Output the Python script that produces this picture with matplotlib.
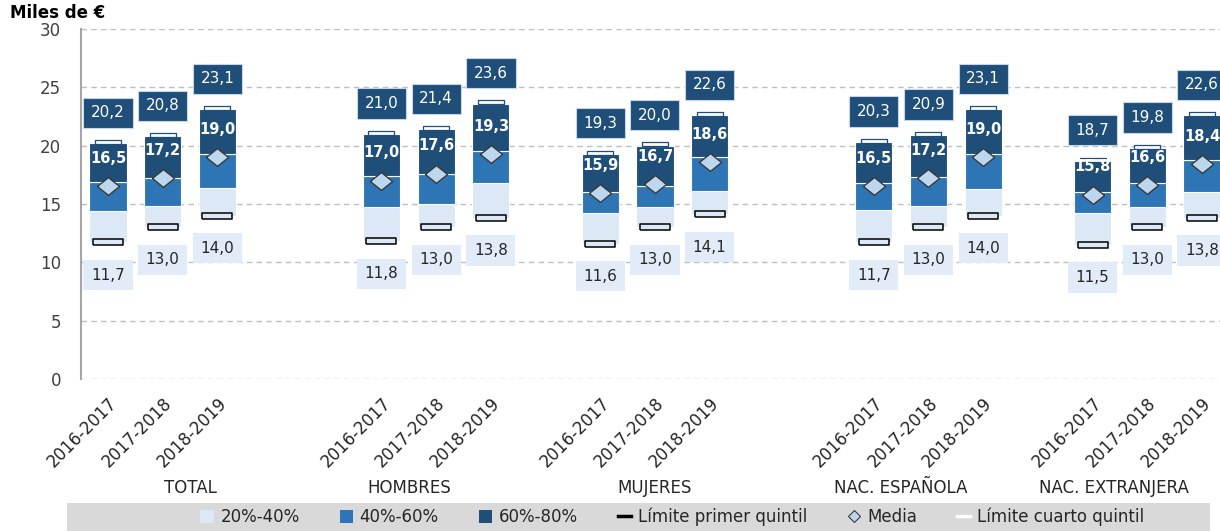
import matplotlib
matplotlib.use('Agg')
import matplotlib.pyplot as plt
import numpy as np
from matplotlib.lines import Line2D
from matplotlib.patches import Patch, Rectangle
from matplotlib.transforms import blended_transform_factory, ScaledTranslation

groups = ['TOTAL', 'HOMBRES', 'MUJERES', 'NAC. ESPAÑOLA', 'NAC. EXTRANJERA']
periods = ['2016-2017', '2017-2018', '2018-2019']

# percentiles (miles de euros), 3 periods per group
p20 = [11.7, 13.0, 14.0, 11.8, 13.0, 13.8, 11.6, 13.0, 14.1, 11.7, 13.0, 14.0, 11.5, 13.0, 13.8]
p40 = [14.4, 14.8, 16.4, 14.7, 15.0, 16.8, 14.2, 14.7, 16.1, 14.5, 14.8, 16.3, 14.2, 14.7, 16.0]
p60 = [16.9, 17.2, 19.3, 17.4, 17.6, 19.5, 16.0, 16.5, 19.0, 16.8, 17.3, 19.3, 16.05, 16.8, 18.8]
p80 = [20.2, 20.8, 23.1, 21.0, 21.4, 23.6, 19.3, 20.0, 22.6, 20.3, 20.9, 23.1, 18.7, 19.8, 22.6]
media = [16.5, 17.2, 19.0, 17.0, 17.6, 19.3, 15.9, 16.7, 18.6, 16.5, 17.2, 19.0, 15.8, 16.6, 18.4]

# layout: first slot of each group on the category axis
group_start = [0, 5, 9, 14, 18]
group_label_x = [1.5, 5.5, 10.0, 14.5, 18.4]

C_LIGHT = '#dce8f5'
C_MID = '#2e75b6'
C_DARK = '#1f4e79'
C_DIAM = '#bdd7ee'
C_BOXLOW = '#e2ecf8'


def fmt(v):
    return '{:.1f}'.format(v).replace('.', ',')


def main():
    x = np.array([g + i for g in group_start for i in range(len(periods))], dtype=float)
    lo = np.array(p20)
    q40 = np.array(p40)
    q60 = np.array(p60)
    hi = np.array(p80)
    mean = np.array(media)

    fig = plt.figure(figsize=(12.2, 5.31), dpi=100)
    ax = fig.add_axes([0.0661, 0.2863, 1 - 0.0661, 0.6591])

    w = 0.68
    ax.bar(x, q40 - lo, w, bottom=lo, color=C_LIGHT, edgecolor='white', linewidth=0.8, zorder=2)
    ax.bar(x, q60 - q40, w, bottom=q40, color=C_MID, edgecolor='white', linewidth=0.8, zorder=2)
    ax.bar(x, hi - q60, w, bottom=q60, color=C_DARK, edgecolor='white', linewidth=0.8, zorder=2)

    rect = [(-1, -0.17), (1, -0.17), (1, 0.17), (-1, 0.17), (-1, -0.17)]
    ax.plot(x, lo, ls='none', marker=rect, ms=22, mfc=C_LIGHT, mec='black', mew=1.1, zorder=4)
    ax.plot(x, hi + 0.1, ls='none', marker=rect, ms=19, mfc='white', mec=C_DARK, mew=0.9, zorder=4)

    diamond = [(-1, 0), (0, 0.8), (1, 0), (0, -0.8), (-1, 0)]
    ax.plot(x, mean, ls='none', marker=diamond, ms=16, mfc=C_DIAM, mec='#3a3a3a', mew=1.0, zorder=5)

    for xi, a, b, m in zip(x, lo, hi, mean):
        ax.annotate(fmt(b), (xi, b), xytext=(0, 22), textcoords='offset points',
                    ha='center', va='center', fontsize=11, color='white',
                    bbox=dict(boxstyle='square,pad=0.5', fc=C_DARK, ec='#c6d6ea', lw=0.8), zorder=6)
        ax.annotate(fmt(a), (xi, a), xytext=(0, -23.5), textcoords='offset points',
                    ha='center', va='center', fontsize=11, color='#262626',
                    bbox=dict(boxstyle='square,pad=0.5', fc=C_BOXLOW, ec='none'), zorder=6)
        ax.annotate(fmt(m), (xi, m), xytext=(0, 20), textcoords='offset points',
                    ha='center', va='center', fontsize=10.5, fontweight='bold', color='white', zorder=6)

    ax.set_ylim(0, 30)
    ax.set_xlim(-0.5, 20.33)
    ax.set_yticks(np.arange(0, 31, 5))
    ax.set_yticklabels([str(v) for v in range(0, 31, 5)], fontsize=12, color='#404040')
    ax.set_xticks(x)
    ax.set_xticklabels(periods * len(groups), rotation=45, ha='right',
                       rotation_mode='anchor', fontsize=12, color='#262626')
    shift = ScaledTranslation(-6 / 100, 0, fig.dpi_scale_trans)
    for lab in ax.get_xticklabels():
        lab.set_transform(lab.get_transform() + shift)
    ax.tick_params(axis='both', length=0)
    ax.tick_params(axis='x', pad=11)
    ax.tick_params(axis='y', pad=14)

    ax.grid(axis='y', color='#bfbfbf', linestyle=(0, (4, 3)), linewidth=1, zorder=0)
    ax.set_axisbelow(True)
    for s in ['top', 'right', 'bottom']:
        ax.spines[s].set_visible(False)
    ax.spines['left'].set_color('#a6a6a6')
    ax.spines['left'].set_linewidth(1.5)

    tr = blended_transform_factory(ax.transData, ax.transAxes)
    for gx, name in zip(group_label_x, groups):
        ax.text(gx, -0.311, name, transform=tr, ha='center', va='center',
                fontsize=12, color='#262626')

    fig.text(10 / 1220, 1 - 13 / 531, 'Miles de €', fontsize=12, fontweight='bold',
             ha='left', va='center', color='black')

    fig.patches.append(Rectangle((67 / 1220, 0), (1210 - 67) / 1220, 28 / 531,
                                 transform=fig.transFigure, fc='#d9d9d9', ec='none', zorder=0))

    handles = [
        Patch(fc=C_LIGHT, ec='none'),
        Patch(fc=C_MID, ec='none'),
        Patch(fc=C_DARK, ec='none'),
        Line2D([], [], color='black', lw=2.5),
        Line2D([], [], ls='none', marker='D', ms=6, mfc=C_DIAM, mec='#3a3a3a', mew=0.8),
        Line2D([], [], color='white', lw=2.5),
    ]
    labels = ['20%-40%', '40%-60%', '60%-80%', 'Límite primer quintil', 'Media', 'Límite cuarto quintil']
    fig.legend(handles, labels, loc='center', bbox_to_anchor=(0.551, 14 / 531), ncol=6,
               frameon=False, fontsize=12, handlelength=0.8, handleheight=0.8,
               handletextpad=0.4, columnspacing=2.4, labelcolor='#262626')

    fig.savefig('out.png', dpi=100)


main()
